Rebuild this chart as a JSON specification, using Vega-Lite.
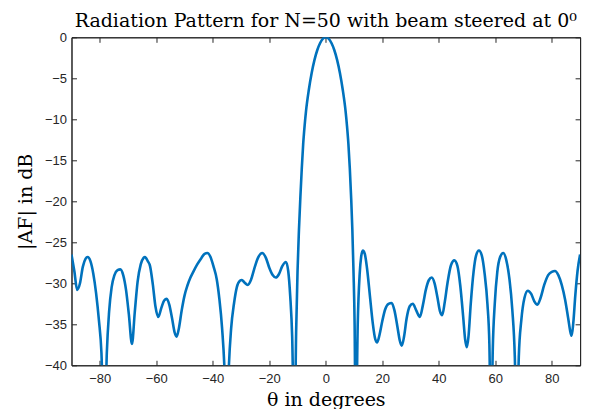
{
  "$schema": "https://vega.github.io/schema/vega-lite/v6.json",
  "autosize": {"type": "none"},
  "padding": {"left": 71.5, "top": 37.3, "right": 31, "bottom": 44},
  "width": 508.6,
  "height": 328,
  "background": "white",
  "title": {"text": "Radiation Pattern for N=50 with beam steered at 0⁰", "font": "DejaVu Serif", "fontSize": 19, "fontWeight": "normal", "color": "#000000", "anchor": "middle", "offset": 0},
  "config": {
    "view": {"stroke": "#262626", "strokeWidth": 1},
    "axis": {"grid": false, "domainColor": "#262626", "tickColor": "#262626", "labelColor": "#262626", "labelFont": "Liberation Sans", "labelFontSize": 13, "tickSize": -5, "domainWidth": 1, "tickWidth": 1}
  },
  "data": {"values": [
    {"theta": -90, "af": -26.5}, {"theta": -89, "af": -28.5}, {"theta": -88, "af": -30.8}, {"theta": -87, "af": -30.0},
    {"theta": -86, "af": -28.0}, {"theta": -85, "af": -27.0}, {"theta": -84.3, "af": -26.8}, {"theta": -83.3, "af": -27.3},
    {"theta": -82.3, "af": -28.8}, {"theta": -81.3, "af": -31.2}, {"theta": -80.3, "af": -34.5}, {"theta": -79.4, "af": -38.5},
    {"theta": -78.4, "af": -50}, {"theta": -77.5, "af": -38.5}, {"theta": -76.7, "af": -33.5}, {"theta": -75.8, "af": -30.5},
    {"theta": -74.8, "af": -29.0}, {"theta": -73.7, "af": -28.4}, {"theta": -72.7, "af": -28.3}, {"theta": -71.7, "af": -29.0},
    {"theta": -70.7, "af": -30.8}, {"theta": -69.7, "af": -33.8}, {"theta": -68.6, "af": -37.4}, {"theta": -67.6, "af": -33.5},
    {"theta": -66.6, "af": -29.8}, {"theta": -65.5, "af": -27.7}, {"theta": -64.5, "af": -26.9}, {"theta": -64.0, "af": -26.8},
    {"theta": -63.0, "af": -27.3}, {"theta": -62.2, "af": -27.9}, {"theta": -61.2, "af": -30.2}, {"theta": -60.3, "af": -32.8},
    {"theta": -59.3, "af": -34.1}, {"theta": -58.2, "af": -33.0}, {"theta": -57.2, "af": -32.1}, {"theta": -56.3, "af": -31.9},
    {"theta": -55.4, "af": -32.6}, {"theta": -54.4, "af": -34.3}, {"theta": -53.5, "af": -36.0}, {"theta": -52.8, "af": -36.5},
    {"theta": -52.0, "af": -35.5}, {"theta": -51.0, "af": -33.3}, {"theta": -50.0, "af": -31.5}, {"theta": -49.0, "af": -30.3},
    {"theta": -47.9, "af": -29.3}, {"theta": -46.9, "af": -28.6}, {"theta": -45.5, "af": -27.7}, {"theta": -44.0, "af": -26.9},
    {"theta": -42.9, "af": -26.4}, {"theta": -41.9, "af": -26.3}, {"theta": -40.8, "af": -26.8}, {"theta": -39.7, "af": -28.0},
    {"theta": -38.6, "af": -29.5}, {"theta": -37.7, "af": -31.8}, {"theta": -36.7, "af": -35.5}, {"theta": -35.8, "af": -41},
    {"theta": -35.1, "af": -50}, {"theta": -34.4, "af": -41}, {"theta": -33.5, "af": -35.5}, {"theta": -32.5, "af": -32.5},
    {"theta": -31.5, "af": -30.5}, {"theta": -30.4, "af": -29.7}, {"theta": -29.7, "af": -29.6}, {"theta": -28.8, "af": -29.9},
    {"theta": -27.6, "af": -30.2}, {"theta": -26.5, "af": -29.6}, {"theta": -25.3, "af": -28.2}, {"theta": -24.0, "af": -26.9},
    {"theta": -22.5, "af": -26.3}, {"theta": -21.2, "af": -26.9}, {"theta": -20.0, "af": -28.1}, {"theta": -18.8, "af": -29.0},
    {"theta": -17.7, "af": -29.3}, {"theta": -16.6, "af": -28.9}, {"theta": -15.4, "af": -27.9}, {"theta": -14.1, "af": -27.4},
    {"theta": -13.3, "af": -28.5}, {"theta": -12.6, "af": -31.5}, {"theta": -11.9, "af": -36.5}, {"theta": -11.1, "af": -50},
    {"theta": -10.5, "af": -36}, {"theta": -10.0, "af": -28.5}, {"theta": -9.5, "af": -23.5}, {"theta": -9.0, "af": -19.5},
    {"theta": -8.5, "af": -16}, {"theta": -8.0, "af": -13}, {"theta": -7.5, "af": -10.8}, {"theta": -7.0, "af": -9.0},
    {"theta": -6.0, "af": -6.4}, {"theta": -5.0, "af": -4.35}, {"theta": -4.0, "af": -2.75}, {"theta": -3.0, "af": -1.55},
    {"theta": -2.0, "af": -0.7}, {"theta": -1.0, "af": -0.17}, {"theta": 0, "af": 0}, {"theta": 1, "af": -0.17},
    {"theta": 2, "af": -0.7}, {"theta": 3, "af": -1.55}, {"theta": 4, "af": -2.75}, {"theta": 5, "af": -4.35},
    {"theta": 6, "af": -6.4}, {"theta": 7, "af": -9.0}, {"theta": 7.5, "af": -10.8}, {"theta": 8.0, "af": -13},
    {"theta": 8.5, "af": -16}, {"theta": 9.0, "af": -19.8}, {"theta": 9.4, "af": -23.5}, {"theta": 9.8, "af": -28.5},
    {"theta": 10.2, "af": -35}, {"theta": 10.6, "af": -50}, {"theta": 11.3, "af": -35}, {"theta": 12.0, "af": -28.8},
    {"theta": 12.5, "af": -26.8}, {"theta": 13.1, "af": -26.0}, {"theta": 13.8, "af": -26.4}, {"theta": 14.6, "af": -28.2},
    {"theta": 15.6, "af": -31.5}, {"theta": 16.6, "af": -34.8}, {"theta": 17.5, "af": -36.8}, {"theta": 18.2, "af": -37.2},
    {"theta": 19.0, "af": -36.3}, {"theta": 20.0, "af": -34.6}, {"theta": 21.0, "af": -33.2}, {"theta": 22.2, "af": -32.5},
    {"theta": 23.3, "af": -32.4}, {"theta": 24.3, "af": -33.3}, {"theta": 25.3, "af": -35.2}, {"theta": 26.2, "af": -37.0},
    {"theta": 26.9, "af": -37.6}, {"theta": 27.7, "af": -36.5}, {"theta": 28.6, "af": -34.3}, {"theta": 29.7, "af": -32.8},
    {"theta": 30.8, "af": -32.5}, {"theta": 32.0, "af": -33.3}, {"theta": 33.3, "af": -34.1}, {"theta": 34.4, "af": -32.6},
    {"theta": 35.4, "af": -30.8}, {"theta": 36.5, "af": -29.6}, {"theta": 37.5, "af": -29.3}, {"theta": 38.5, "af": -30.0},
    {"theta": 39.5, "af": -31.7}, {"theta": 40.4, "af": -33.4}, {"theta": 41.2, "af": -33.9}, {"theta": 42.1, "af": -32.3},
    {"theta": 43.1, "af": -29.9}, {"theta": 44.3, "af": -27.8}, {"theta": 45.5, "af": -27.2}, {"theta": 46.6, "af": -27.9},
    {"theta": 47.6, "af": -30.3}, {"theta": 48.6, "af": -34.0}, {"theta": 49.3, "af": -36.8}, {"theta": 49.9, "af": -37.8},
    {"theta": 50.5, "af": -36.5}, {"theta": 51.3, "af": -32.5}, {"theta": 52.3, "af": -28.6}, {"theta": 53.2, "af": -26.6},
    {"theta": 54.2, "af": -26.0}, {"theta": 55.2, "af": -26.6}, {"theta": 56.2, "af": -28.8}, {"theta": 57.2, "af": -32.5},
    {"theta": 57.9, "af": -37.5}, {"theta": 58.5, "af": -50}, {"theta": 59.1, "af": -38}, {"theta": 59.8, "af": -32.5},
    {"theta": 60.7, "af": -28.6}, {"theta": 61.7, "af": -26.8}, {"theta": 62.8, "af": -26.3}, {"theta": 63.9, "af": -27.2},
    {"theta": 65.0, "af": -29.5}, {"theta": 66.0, "af": -33.2}, {"theta": 66.9, "af": -39}, {"theta": 67.6, "af": -50},
    {"theta": 68.3, "af": -39}, {"theta": 69.2, "af": -34.5}, {"theta": 70.3, "af": -31.8}, {"theta": 71.5, "af": -30.9},
    {"theta": 72.7, "af": -31.3}, {"theta": 73.8, "af": -32.2}, {"theta": 74.9, "af": -32.6}, {"theta": 76.0, "af": -31.8},
    {"theta": 77.3, "af": -30.2}, {"theta": 78.7, "af": -29.0}, {"theta": 80.0, "af": -28.6}, {"theta": 81.1, "af": -28.5},
    {"theta": 82.3, "af": -29.0}, {"theta": 83.5, "af": -30.2}, {"theta": 84.7, "af": -32.0}, {"theta": 85.8, "af": -34.3},
    {"theta": 86.6, "af": -36.0}, {"theta": 87.0, "af": -36.4}, {"theta": 87.6, "af": -34.8}, {"theta": 88.3, "af": -31.5},
    {"theta": 89.1, "af": -28.5}, {"theta": 90, "af": -26.5}
  ]},
  "layer": [
    {
      "mark": {"type": "line", "color": "#0072BD", "strokeWidth": 2.6, "interpolate": "monotone", "clip": true},
      "encoding": {
        "x": {"field": "theta", "type": "quantitative", "scale": {"domain": [-90, 90], "nice": false, "zero": false},
              "axis": {"orient": "bottom", "values": [-80, -60, -40, -20, 0, 20, 40, 60, 80], "title": "θ in degrees", "titleFont": "DejaVu Serif", "titleFontSize": 19, "titleFontWeight": "normal", "titleColor": "#000000", "titlePadding": 5, "labelPadding": 12}},
        "y": {"field": "af", "type": "quantitative", "scale": {"domain": [-40, 0], "nice": false, "zero": false},
              "axis": {"orient": "left", "values": [-40, -35, -30, -25, -20, -15, -10, -5, 0], "title": "|AF| in dB", "titleFont": "DejaVu Serif", "titleFontSize": 19, "titleFontWeight": "normal", "titleColor": "#000000", "titlePadding": 9, "labelPadding": 10}}
      }
    },
    {
      "mark": {"type": "line", "strokeOpacity": 0, "clip": true},
      "encoding": {
        "x": {"field": "theta", "type": "quantitative", "axis": {"orient": "top", "values": [-80, -60, -40, -20, 0, 20, 40, 60, 80], "labels": false, "title": null}},
        "y": {"field": "af", "type": "quantitative", "axis": {"orient": "right", "values": [-40, -35, -30, -25, -20, -15, -10, -5, 0], "labels": false, "title": null}}
      }
    }
  ],
  "resolve": {"axis": {"x": "independent", "y": "independent"}}
}
